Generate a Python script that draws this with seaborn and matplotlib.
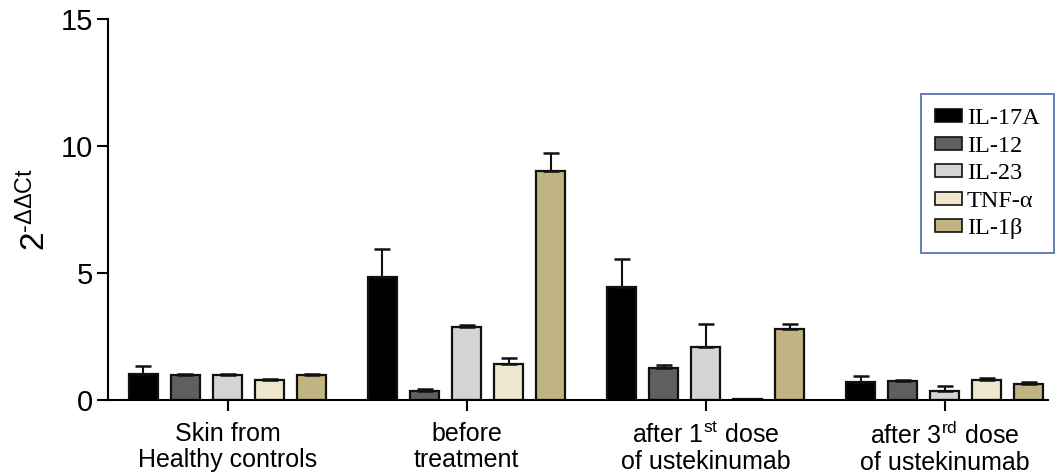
import numpy as np
import pandas as pd
import matplotlib
matplotlib.use('Agg')
import matplotlib.pyplot as plt
import seaborn as sns

groups = ['Skin from\nHealthy controls', 'before\ntreatment',
          'after 1$\\mathregular{^{st}}$ dose\nof ustekinumab',
          'after 3$\\mathregular{^{rd}}$ dose\nof ustekinumab']
cytokines = ['IL-17A', 'IL-12', 'IL-23', 'TNF-α', 'IL-1β']
colors = ['#000000', '#5f5f5f', '#d4d4d4', '#eee7cd', '#c0b483']

# mean values per cytokine, one entry per group
il17a = [1.02, 4.84, 4.45, 0.71]
il12 = [0.98, 0.35, 1.26, 0.74]
il23 = [0.98, 2.87, 2.09, 0.37]
tnfa = [0.78, 1.42, 0.03, 0.78]
il1b = [0.98, 9.00, 2.80, 0.62]

# upper error (SEM)
il17a_err = [0.32, 1.10, 1.10, 0.23]
il12_err = [0.05, 0.07, 0.12, 0.06]
il23_err = [0.03, 0.08, 0.90, 0.19]
tnfa_err = [0.03, 0.23, 0.03, 0.10]
il1b_err = [0.06, 0.72, 0.19, 0.08]

means = [il17a, il12, il23, tnfa, il1b]
errs = [il17a_err, il12_err, il23_err, tnfa_err, il1b_err]

rows = []
for c, m, e in zip(cytokines, means, errs):
    for g, v, s in zip(groups, m, e):
        rows.append({'group': g, 'cytokine': c, 'value': v, 'err': s})
df = pd.DataFrame(rows)

sns.set_style('ticks')
plt.rcParams['font.family'] = ['Liberation Sans', 'DejaVu Sans']
plt.rcParams['mathtext.fontset'] = 'custom'
plt.rcParams['mathtext.rm'] = 'Liberation Sans'
plt.rcParams['mathtext.it'] = 'Liberation Sans:italic'
plt.rcParams['text.color'] = 'black'
plt.rcParams['axes.labelcolor'] = 'black'
plt.rcParams['xtick.color'] = 'black'
plt.rcParams['ytick.color'] = 'black'
plt.rcParams['axes.edgecolor'] = 'black'

fig = plt.figure(figsize=(10.55, 4.74), dpi=100)
ax = fig.add_axes([0.1024, 0.156, 0.8906, 0.804])

sns.barplot(data=df, x='group', y='value', hue='cytokine', order=groups,
            hue_order=cytokines, palette=colors, saturation=1, width=0.88,
            gap=0.31, edgecolor='#111111', linewidth=1.6, errorbar=None,
            ax=ax, legend=False)

# upper-only error bars, positioned on the drawn bars
for cont, c in zip(ax.containers, cytokines):
    sub = df[df['cytokine'] == c].set_index('group').loc[groups]
    xs = [p.get_x() + p.get_width() / 2 for p in cont.patches]
    ax.errorbar(xs, sub['value'], yerr=[np.zeros(len(xs)), sub['err']],
                fmt='none', ecolor='#111111', elinewidth=1.5, capsize=6,
                capthick=1.8, zorder=1)

ax.set_ylim(0, 15)
ax.set_xlim(-0.5, 3.43)
ax.set_yticks([0, 5, 10, 15])
ax.tick_params(axis='y', labelsize=21, length=8, width=1.5, pad=3)
ax.tick_params(axis='x', labelsize=18, length=8, width=1.5, pad=8)
ax.set_xlabel('')
ax.set_ylabel('$\\mathregular{2^{\u2010\\Delta\\Delta Ct}}$', fontsize=24, labelpad=6)
for s in ['left', 'bottom']:
    ax.spines[s].set_linewidth(1.5)
sns.despine(ax=ax)
for t in ax.get_xticklabels():
    t.set_linespacing(1.1)

handles = [plt.Rectangle((0, 0), 1, 1, facecolor=col, edgecolor='#111111',
                         linewidth=1.2) for col in colors]
leg = ax.legend(handles, cytokines, loc='upper left',
                bbox_to_anchor=(0.865, 0.803), frameon=True, fancybox=False,
                prop={'family': 'Liberation Serif', 'size': 17.5},
                handlelength=1.1, handleheight=0.45, labelspacing=0.27,
                borderpad=0.58, handletextpad=0.22, borderaxespad=0)
leg.get_frame().set_edgecolor('#3050a0')
leg.get_frame().set_linewidth(1.3)

fig.savefig('out.png', dpi=100)
